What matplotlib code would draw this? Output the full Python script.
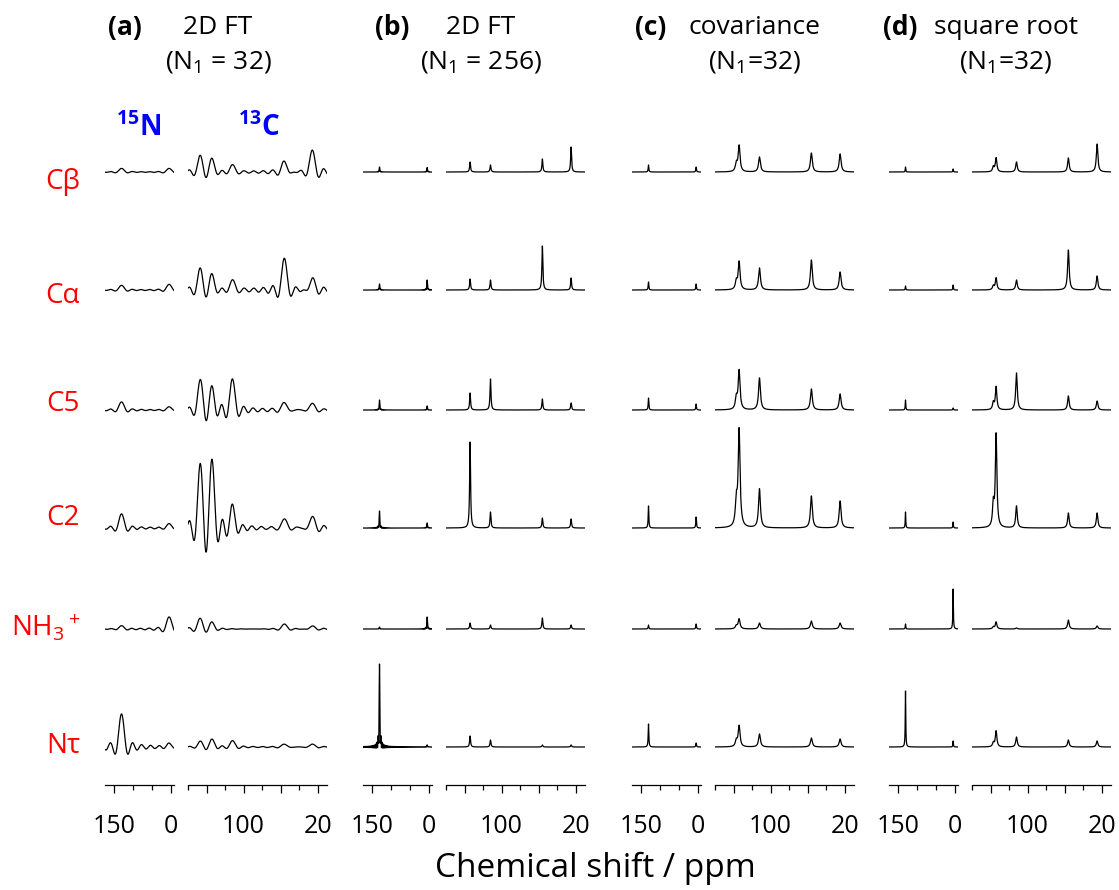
import numpy as np
import matplotlib

matplotlib.use("Agg")
import matplotlib.pyplot as plt

plt.rcParams.update(
    {
        "font.family": ["Open Sans", "DejaVu Sans"],
        "mathtext.fontset": "custom",
        "mathtext.rm": "Open Sans",
        "mathtext.it": "Open Sans:italic",
        "mathtext.bf": "Open Sans:bold",
        "figure.facecolor": "white",
    }
)

W, H = 1119, 890

# row labels and spectral peak positions (ppm)
ROW_LABELS = ["C\u03b2", "C\u03b1", "C5", "C2", "NH$_3$$^+$", "N\u03c4"]
N_SHIFTS = [131, 4]
C_SHIFTS = [
    [147, 134, 112, 56, 26],  # (a) low-res, extra lobe near 147
    [134, 112, 56, 25],
    [137, 134, 112, 56, 25],  # (c) shoulder at 137
    [137, 134, 112, 56, 25],
]

# peak heights, one list per row (Cb, Ca, C5, C2, NH3+, Nt), per column
N_HEIGHTS = [
    [[3.5, 3.5], [4.5, 5.5], [8, 3], [14, 4], [3, 12], [33, 3]],
    [[5, 4.5], [6, 10], [10, 4], [17, 5], [2, 12], [83, 2]],
    [[7, 5], [8, 6], [12, 6], [22, 11], [4, 5], [23, 4]],
    [[5, 3], [4, 5], [10, 2], [16, 6], [5, 40], [56, 6]],
]
C_HEIGHTS = [
    [[15, 12, 7, 11, 22], [20, 14, 10, 32, 12], [28, 19, 30, 8, 7],
     [57, 61, 20, 10, 12], [10, 6, 0, 5, 3], [5, 7, 6, 3, 3]],
    [[10, 7, 13, 25], [11, 10, 44, 12], [17, 31, 11, 7],
     [86, 16, 10, 9], [6, 4, 11, 4], [11, 7, 2, 2]],
    [[8, 26, 15, 19, 18], [8, 28, 22, 30, 18], [11, 39, 32, 21, 16],
     [24, 97, 39, 32, 27], [3, 10, 6, 8, 6], [6, 21, 13, 9, 8]],
    [[5, 14, 10, 14, 28], [4, 12, 10, 40, 14], [7, 23, 37, 14, 9],
     [22, 93, 22, 15, 15], [2, 7, 1, 9, 3], [4, 16, 10, 7, 6]],
]

# line shapes per column: (a) truncated -> sinc wiggles
SHAPE_N = ["sinc", "mixed", "lorentz", "lorentz"]
WIDTH_N = [12.0, 1.5, 1.0, 0.8]
SHAPE_C = ["sinc", "lorentz", "lorentz", "lorentz"]
WIDTH_C = [5.0, 0.6, 1.2, 1.0]

COL_TAGS = ["(a)", "(b)", "(c)", "(d)"]
COL_TITLES = ["2D FT", "2D FT", "covariance", "square root"]
COL_SUBS = ["(N$_1$ = 32)", "(N$_1$ = 256)", "(N$_1$=32)", "(N$_1$=32)"]

# layout (pixels)
COL_X0 = [105, 363, 632, 889]
BASE_Y = [172, 290, 410, 528, 629, 747]
LABEL_Y = [182, 296, 404, 518, 628, 746]
SPINE_Y = 785
TOP_Y = 95
N_LIM = (175, -9)
C_LIM = (160, 10)


def line(x, shifts, heights, shape, w):
    y = np.zeros_like(x)
    for s, h in zip(shifts, heights):
        lor = 1.0 / (1.0 + ((x - s) / w) ** 2)
        if shape == "sinc":
            y += h * np.sinc((x - s) / w)
        elif shape == "mixed":
            y += h * (0.5 * np.sinc((x - s) / w) + 0.5 * lor)
        else:
            y += h * lor
    return y


fig = plt.figure(figsize=(W / 100, H / 100), dpi=100)


def px_axes(x0, x1):
    return fig.add_axes(
        [x0 / W, 1 - SPINE_Y / H, (x1 - x0) / W, (SPINE_Y - TOP_Y) / H]
    )


def style(ax, lim, major, labels, minor):
    ax.set_xlim(*lim)
    ax.set_ylim(SPINE_Y, TOP_Y)
    for sp in ("top", "right", "left"):
        ax.spines[sp].set_visible(False)
    ax.spines["bottom"].set_linewidth(0.9)
    ax.set_yticks([])
    ax.set_xticks(major, labels=labels)
    ax.set_xticks(minor, minor=True)
    ax.tick_params(axis="x", which="major", length=6, width=0.9, labelsize=18, pad=15)
    ax.tick_params(axis="x", which="minor", length=3.5, width=0.9)
    ax.patch.set_alpha(0)


xn = np.linspace(N_LIM[0], N_LIM[1], 4000)
xc = np.linspace(C_LIM[0], C_LIM[1], 6000)

for c in range(4):
    x0 = COL_X0[c]
    axn = px_axes(x0, x0 + 69)
    axc = px_axes(x0 + 83, x0 + 222)
    for r in range(6):
        yn = line(xn, N_SHIFTS, N_HEIGHTS[c][r], SHAPE_N[c], WIDTH_N[c])
        yc = line(xc, C_SHIFTS[c], C_HEIGHTS[c][r], SHAPE_C[c], WIDTH_C[c])
        axn.plot(xn, BASE_Y[r] - yn, color="black", lw=0.9)
        axc.plot(xc, BASE_Y[r] - yc, color="black", lw=0.9)
    style(axn, N_LIM, [150, 0], ["150", "0"], [100, 50])
    style(axc, C_LIM, [140, 100, 60, 20], ["", "100", "", "20"], [160, 120, 80, 40])


def ftext(x, y, s, **kw):
    fig.text(x / W, 1 - y / H, s, ha=kw.pop("ha", "center"), va="center", **kw)


TAG_X = [125, 392, 651, 900]
TITLE_X = [218, 481, 755, 1006]
for c in range(4):
    ftext(TAG_X[c], 28, COL_TAGS[c], fontsize=19, fontweight="bold")
    ftext(TITLE_X[c], 28, COL_TITLES[c], fontsize=19)
    ftext(TITLE_X[c], 62, COL_SUBS[c], fontsize=19)

ftext(139, 128, "$^{\\mathbf{15}}$N", fontsize=20, fontweight="bold", color="#0000ff")
ftext(259, 128, "$^{\\mathbf{13}}$C", fontsize=20, fontweight="bold", color="#0000ff")

for r in range(6):
    ftext(80, LABEL_Y[r], ROW_LABELS[r], fontsize=20, color="#ff0000", ha="right")

ftext(595, 868, "Chemical shift / ppm", fontsize=24)

fig.savefig("out.png", dpi=100)
